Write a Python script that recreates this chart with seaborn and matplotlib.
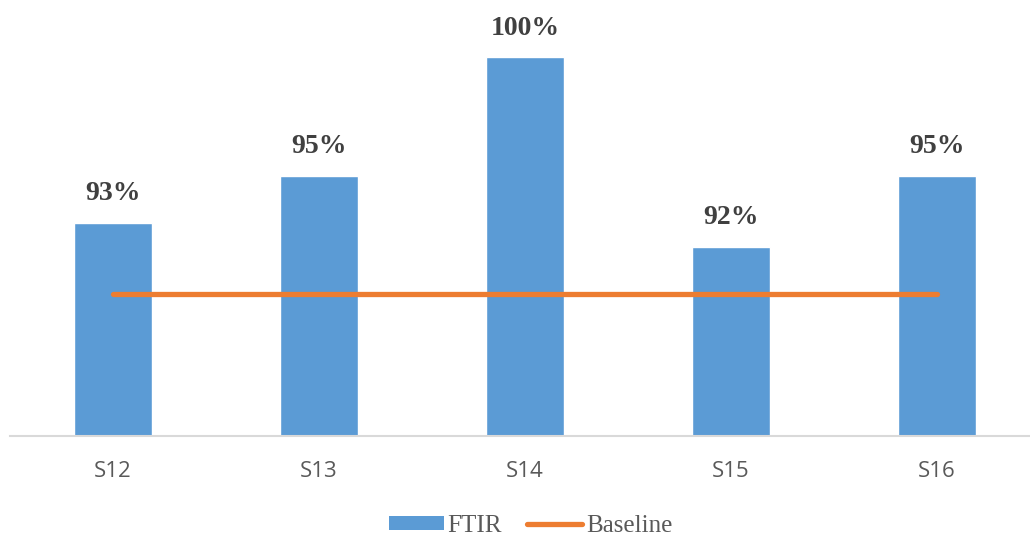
import matplotlib
matplotlib.use("Agg")
import matplotlib.pyplot as plt
import seaborn as sns
import pandas as pd
from matplotlib.patches import Patch
from matplotlib.lines import Line2D

samples = ["S12", "S13", "S14", "S15", "S16"]
ftir = [93, 95, 100, 92, 95]
baseline = [90, 90, 90, 90, 90]

bar_color = "#5B9BD5"
line_color = "#ED7D31"

sns.set_theme(style="white")
plt.rcParams["font.family"] = ["Liberation Serif", "DejaVu Serif"]

df = pd.DataFrame({"sample": samples, "ftir": ftir, "baseline": baseline})

fig = plt.figure(figsize=(10.30, 5.38), dpi=100)
ax = fig.add_axes([0.0097, 0.1896, 1.0, 0.76])

sns.barplot(data=df, x="sample", y="ftir", color=bar_color, width=0.383,
            saturation=1, ax=ax)
ax.plot(range(len(samples)), df["baseline"], color=line_color, lw=3.8,
        solid_capstyle="round", zorder=3)

for i, v in enumerate(ftir):
    ax.annotate(f"{v}%", (i, v), xytext=(0, 12), textcoords="offset points",
                ha="center", va="bottom", fontsize=20, fontweight="bold",
                color="#404040", annotation_clip=False)

ax.set_ylim(84, 101.27)
ax.set_xlim(-0.5, len(samples) - 0.5)
ax.set_xlabel("")
ax.set_ylabel("")
ax.set_yticks([])
for s in ["top", "right", "left"]:
    ax.spines[s].set_visible(False)
ax.spines["bottom"].set_color("#D9D9D9")
ax.spines["bottom"].set_linewidth(1.5)
ax.tick_params(axis="x", length=0, pad=18, labelsize=16, labelcolor="#595959")
for lbl in ax.get_xticklabels():
    lbl.set_family(["Open Sans", "DejaVu Sans"])

handles = [Patch(facecolor=bar_color, edgecolor="none"),
           Line2D([0], [0], color=line_color, lw=3.8, solid_capstyle="round")]
fig.legend(handles, ["FTIR", "Baseline"], loc="center", bbox_to_anchor=(0.515, 0.022),
           ncol=2, frameon=False, fontsize=18, handlelength=2.2, handleheight=0.5,
           handletextpad=0.15, columnspacing=1.0, labelcolor="#595959")

fig.savefig("out.png", dpi=100)
